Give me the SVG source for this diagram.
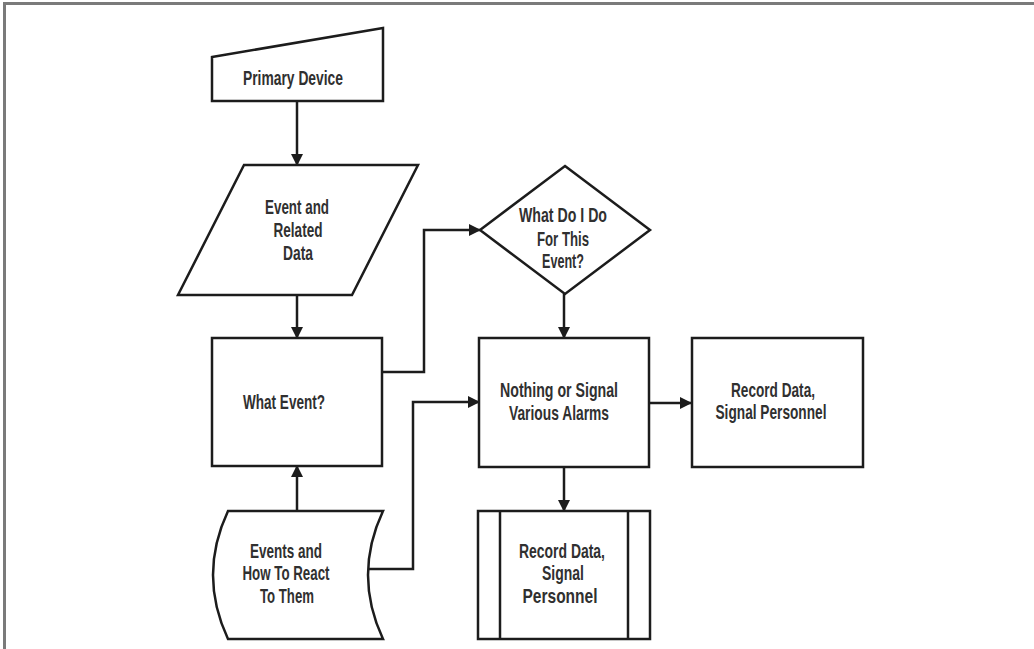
<svg xmlns="http://www.w3.org/2000/svg" width="1034" height="649" viewBox="0 0 1034 649">
  <style>
    .shape { fill: #fff; stroke: #1c1c1c; stroke-width: 2.5; stroke-linejoin: miter; }
    .wire { fill: none; stroke: #1c1c1c; stroke-width: 2.5; }
    .label { font-family: "Liberation Sans", Arial, sans-serif; font-size: 21px; font-weight: bold; fill: #303030; text-anchor: middle; }
  </style>
  <defs>
    <marker id="arrow" viewBox="0 0 12 12" refX="11" refY="6" markerWidth="12" markerHeight="12" markerUnits="userSpaceOnUse" orient="auto">
      <path d="M0,0 L12,6 L0,12 Z" fill="#1c1c1c"/>
    </marker>
  </defs>

  <rect width="1034" height="649" fill="#fff"/>
  <!-- page frame: top and left rules -->
  <g id="frame">
    <rect x="3" y="2" width="1031" height="3" fill="#7a7a7a"/>
    <rect x="3" y="2" width="3" height="647" fill="#7a7a7a"/>
  </g>

  <g id="connectors">
    <path class="wire" d="M297,101 V165" marker-end="url(#arrow)"/>
    <path class="wire" d="M297,295 V338" marker-end="url(#arrow)"/>
    <path class="wire" d="M297,511 V466" marker-end="url(#arrow)"/>
    <path class="wire" d="M382,372 H424 V230 H480" marker-end="url(#arrow)"/>
    <path class="wire" d="M368,569 H413 V402 H479" marker-end="url(#arrow)"/>
    <path class="wire" d="M564,294 V338" marker-end="url(#arrow)"/>
    <path class="wire" d="M649,403 H691" marker-end="url(#arrow)"/>
    <path class="wire" d="M564,467 V511" marker-end="url(#arrow)"/>
  </g>

  <g id="primary-device">
    <path class="shape" d="M212,57 L383,28 L383,101 L212,101 Z"/>
    <text class="label" x="293" y="85" textLength="100" lengthAdjust="spacingAndGlyphs">Primary Device</text>
  </g>

  <g id="event-data">
    <path class="shape" d="M244,165 L418,165 L352,295 L178,295 Z"/>
    <text class="label" x="297" y="214" textLength="64" lengthAdjust="spacingAndGlyphs">Event and</text>
    <text class="label" x="298" y="237" textLength="49" lengthAdjust="spacingAndGlyphs">Related</text>
    <text class="label" x="298" y="260" textLength="30" lengthAdjust="spacingAndGlyphs">Data</text>
  </g>

  <g id="what-event">
    <rect class="shape" x="212" y="338" width="170" height="128"/>
    <text class="label" x="284" y="409" textLength="82" lengthAdjust="spacingAndGlyphs">What Event?</text>
  </g>

  <g id="reaction-store">
    <path class="shape" d="M228,511 L383,511 Q353,575 383,639 L228,639 Q198,575 228,511 Z"/>
    <text class="label" x="286" y="558" textLength="72" lengthAdjust="spacingAndGlyphs">Events and</text>
    <text class="label" x="286" y="580" textLength="87" lengthAdjust="spacingAndGlyphs">How To React</text>
    <text class="label" x="287" y="603" textLength="54" lengthAdjust="spacingAndGlyphs">To Them</text>
  </g>

  <g id="decision">
    <path class="shape" d="M565,166 L650,230 L565,294 L480,230 Z"/>
    <text class="label" x="563" y="222" textLength="88" lengthAdjust="spacingAndGlyphs">What Do I Do</text>
    <text class="label" x="563" y="246" textLength="52" lengthAdjust="spacingAndGlyphs">For This</text>
    <text class="label" x="563" y="268" textLength="42" lengthAdjust="spacingAndGlyphs">Event?</text>
  </g>

  <g id="alarms">
    <rect class="shape" x="479" y="338" width="170" height="129"/>
    <text class="label" x="559" y="397" textLength="118" lengthAdjust="spacingAndGlyphs">Nothing or Signal</text>
    <text class="label" x="559" y="420" textLength="100" lengthAdjust="spacingAndGlyphs">Various Alarms</text>
  </g>

  <g id="record-right">
    <rect class="shape" x="692" y="338" width="171" height="129"/>
    <text class="label" x="773" y="397" textLength="84" lengthAdjust="spacingAndGlyphs">Record Data,</text>
    <text class="label" x="771" y="419" textLength="111" lengthAdjust="spacingAndGlyphs">Signal Personnel</text>
  </g>

  <g id="record-process">
    <rect class="shape" x="478" y="511" width="172" height="128"/>
    <line class="wire" x1="500" y1="511" x2="500" y2="639"/>
    <line class="wire" x1="628" y1="511" x2="628" y2="639"/>
    <text class="label" x="562" y="558" textLength="86" lengthAdjust="spacingAndGlyphs">Record Data,</text>
    <text class="label" x="563" y="580" textLength="42" lengthAdjust="spacingAndGlyphs">Signal</text>
    <text class="label" x="560" y="603" textLength="75" lengthAdjust="spacingAndGlyphs">Personnel</text>
  </g>
</svg>
